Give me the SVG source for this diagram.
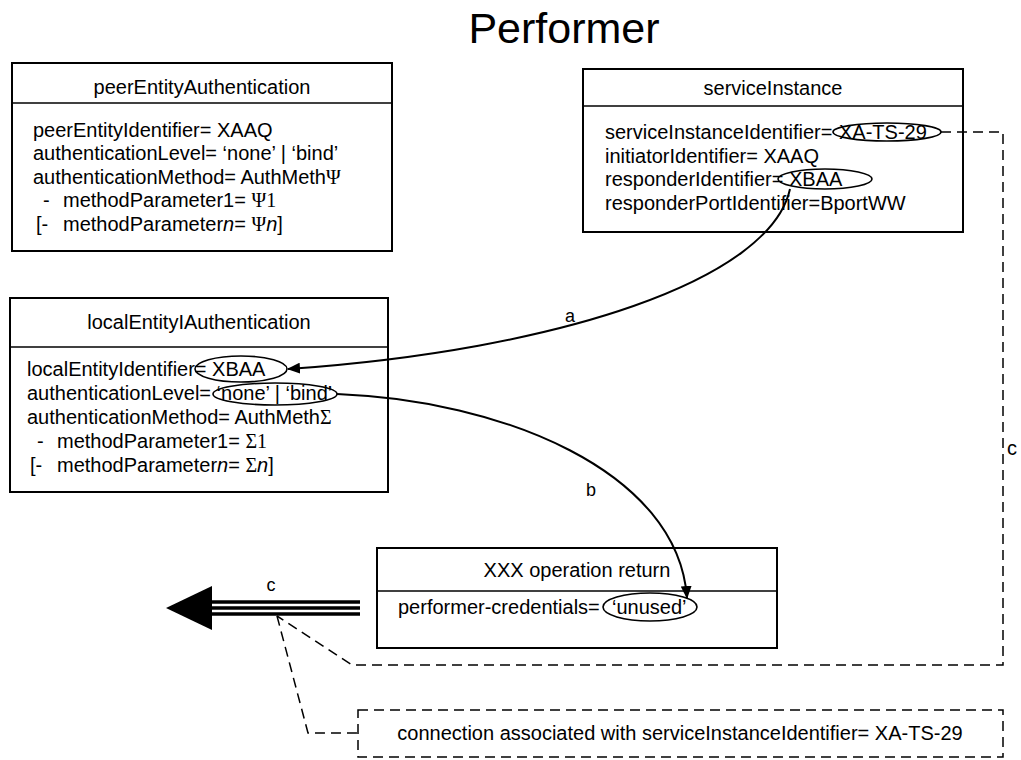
<svg xmlns="http://www.w3.org/2000/svg" width="1021" height="760" viewBox="0 0 1021 760">
<defs>
<style>
text{font-family:"Liberation Sans",Arial,sans-serif;font-size:20px;fill:#000}
.ttl{text-anchor:middle}
.big{font-size:43px;text-anchor:middle}
.sym{font-family:"Liberation Serif","Times New Roman",serif}
.it{font-style:italic}
.box{fill:#fff;stroke:#000;stroke-width:2}
.hdr{stroke:#000;stroke-width:1.5}
.ell{fill:none;stroke:#000;stroke-width:1.6}
.con{fill:none;stroke:#000;stroke-width:2}
.dash{fill:none;stroke:#000;stroke-width:1.5;stroke-dasharray:10,6}
.lbl{font-size:18px;text-anchor:middle}
.tri{stroke:#000;stroke-width:3.5}
</style>
<marker id="ah" viewBox="0 0 13 11" refX="12" refY="5.5" markerWidth="13" markerHeight="11" markerUnits="userSpaceOnUse" orient="auto"><path d="M0,0 L13,5.5 L0,11 z" fill="#000"/></marker>
</defs>
<rect width="1021" height="760" fill="#fff"/>
<text class="big" x="564" y="43">Performer</text>

<g id="peerEntityAuthentication">
<rect class="box" x="12" y="63" width="380" height="188"/>
<line class="hdr" x1="12" y1="103" x2="392" y2="103"/>
<text class="ttl" x="202" y="94">peerEntityAuthentication</text>
<text x="33" y="137">peerEntityIdentifier= XAAQ</text>
<text x="33" y="160">authenticationLevel= ‘none’ | ‘bind’</text>
<text x="33" y="184">authenticationMethod= AuthMeth<tspan class="sym">Ψ</tspan></text>
<text x="43" y="207">-<tspan x="63">methodParameter1= </tspan><tspan class="sym">Ψ1</tspan></text>
<text x="36" y="231">[-<tspan x="63">methodParameter</tspan><tspan class="it">n</tspan>= <tspan class="sym">Ψ</tspan><tspan class="it">n</tspan>]</text>
</g>

<g id="serviceInstance">
<rect class="box" x="583" y="69" width="380" height="163"/>
<line class="hdr" x1="583" y1="106" x2="963" y2="106"/>
<text class="ttl" x="773" y="95">serviceInstance</text>
<text x="605" y="139">serviceInstanceIdentifier=<tspan x="839">XA-TS-29</tspan></text>
<text x="605" y="163">initiatorIdentifier= XAAQ</text>
<text x="605" y="186">responderIdentifier= XBAA</text>
<text x="605" y="210">responderPortIdentifier=BportWW</text>
<ellipse class="ell" cx="887" cy="132" rx="54" ry="9"/>
<ellipse class="ell" cx="825" cy="179" rx="47" ry="10"/>
</g>

<g id="localEntityIAuthentication">
<rect class="box" x="10" y="298" width="378" height="194"/>
<line class="hdr" x1="10" y1="347" x2="388" y2="347"/>
<text class="ttl" x="199" y="329">localEntityIAuthentication</text>
<text x="27" y="376">localEntityIdentifier= XBAA</text>
<text x="27" y="400">authenticationLevel= ‘none’ | ‘bind’</text>
<text x="27" y="424">authenticationMethod= AuthMeth<tspan class="sym">Σ</tspan></text>
<text x="37" y="448">-<tspan x="57">methodParameter1= </tspan><tspan class="sym">Σ1</tspan></text>
<text x="30" y="472">[-<tspan x="57">methodParameter</tspan><tspan class="it">n</tspan>= <tspan class="sym">Σ</tspan><tspan class="it">n</tspan>]</text>
<ellipse class="ell" cx="241" cy="369" rx="46" ry="13"/>
<ellipse class="ell" cx="275" cy="394" rx="62" ry="11"/>
</g>

<g id="operationReturn">
<rect class="box" x="377" y="548" width="400" height="100"/>
<line class="hdr" x1="377" y1="591" x2="777" y2="591"/>
<text class="ttl" x="577" y="577">XXX operation return</text>
<text x="398" y="614">performer-credentials=<tspan x="612">‘unused’</tspan></text>
<ellipse class="ell" cx="650" cy="607" rx="47" ry="14"/>
</g>

<g id="connectionNote">
<rect class="dash" x="358" y="710" width="645" height="47"/>
<text class="ttl" x="680" y="740">connection associated with serviceInstanceIdentifier= XA-TS-29</text>
</g>

<g id="connectors">
<path class="con" d="M790,189 C770,280 560,350 288,369" marker-end="url(#ah)"/>
<text class="lbl" x="570" y="322">a</text>
<path class="con" d="M337,394 C500,400 678,470 687,598" marker-end="url(#ah)"/>
<text class="lbl" x="591" y="496">b</text>
<g id="connectionC">
<line class="tri" x1="205" y1="602" x2="360" y2="602"/>
<line class="tri" x1="205" y1="608" x2="360" y2="608"/>
<line class="tri" x1="205" y1="614" x2="360" y2="614"/>
<path d="M166,608 L212,586 L212,630 z" fill="#000"/>
<text class="lbl" x="271" y="591">c</text>
</g>
<path class="dash" d="M941,132 L1003,132 L1003,665 L352,665 L277,616"/>
<text x="1007" y="455" font-size="18">c</text>
<path class="dash" d="M277,616 L308,733 L358,733"/>
</g>
</svg>
